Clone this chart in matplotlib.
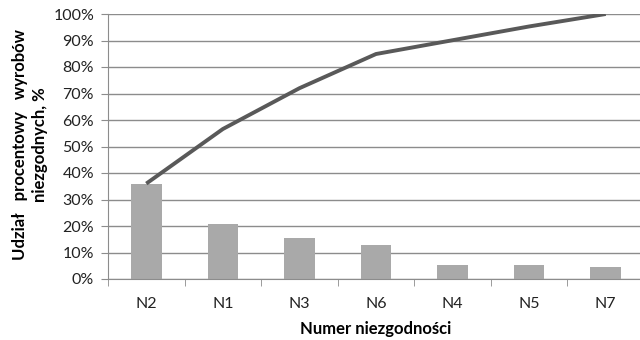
"""Wykres Pareto niezgodności wyrobów"""
import matplotlib
matplotlib.use('Agg')
import matplotlib.pyplot as plt
from matplotlib.ticker import FixedLocator, PercentFormatter

categories = ['N2', 'N1', 'N3', 'N6', 'N4', 'N5', 'N7']
shares = [36.0, 20.6, 15.4, 12.9, 5.2, 5.2, 4.7]
cumulative = [36.0, 56.6, 72.0, 84.9, 90.1, 95.3, 100.0]


def plot():
    plt.rcParams['font.family'] = ['Lato', 'DejaVu Sans']
    fig = plt.figure(figsize=(6.4, 3.4), dpi=100)
    # the right edge is cut off in the reference, so the axes run past the figure
    ax = fig.add_axes([108 / 640, 61 / 340, 536 / 640, 265 / 340])

    x = list(range(len(categories)))
    ax.bar(x, shares, width=0.4, color='#a9a9a9', zorder=2)
    ax.plot(x, cumulative, color='#595959', linewidth=2.8, zorder=3,
            solid_capstyle='butt')

    ax.set_xlim(-0.5, len(categories) - 0.5)
    ax.set_ylim(0, 100)
    ax.set_yticks(range(0, 101, 10))
    ax.yaxis.set_major_formatter(PercentFormatter(decimals=0))
    ax.grid(axis='y', color='#8c8c8c', linewidth=1.0, zorder=1)

    ax.set_xticks(x)
    ax.set_xticklabels(categories)
    ax.xaxis.set_minor_locator(FixedLocator([i - 0.5 for i in range(len(categories) + 1)]))
    ax.tick_params(axis='x', which='major', length=0, pad=13, labelsize=11.5, labelcolor='#222222')
    ax.tick_params(axis='x', which='minor', length=5, color='#8c8c8c', direction='out')
    ax.tick_params(axis='y', length=5, color='#8c8c8c', labelsize=11.5, labelcolor='#222222', pad=5)

    for side in ['top', 'right']:
        ax.spines[side].set_visible(False)
    for side in ['left', 'bottom']:
        ax.spines[side].set_color('#8c8c8c')

    ax.set_xlabel('Numer niezgodności', fontsize=12, fontweight='bold', labelpad=7)
    # two-line y label placed by hand, first line is spread out as in the original
    fig.text(20 / 640, 1 - 145 / 340, 'Udział   procentowy   wyrobów', rotation=90,
             fontsize=12, fontweight='bold', ha='center', va='center')
    fig.text(40 / 640, 1 - 145 / 340, 'niezgodnych, %', rotation=90,
             fontsize=12, fontweight='bold', ha='center', va='center')

    fig.savefig('out.png', dpi=100)


if __name__ == "__main__":
    plot()
